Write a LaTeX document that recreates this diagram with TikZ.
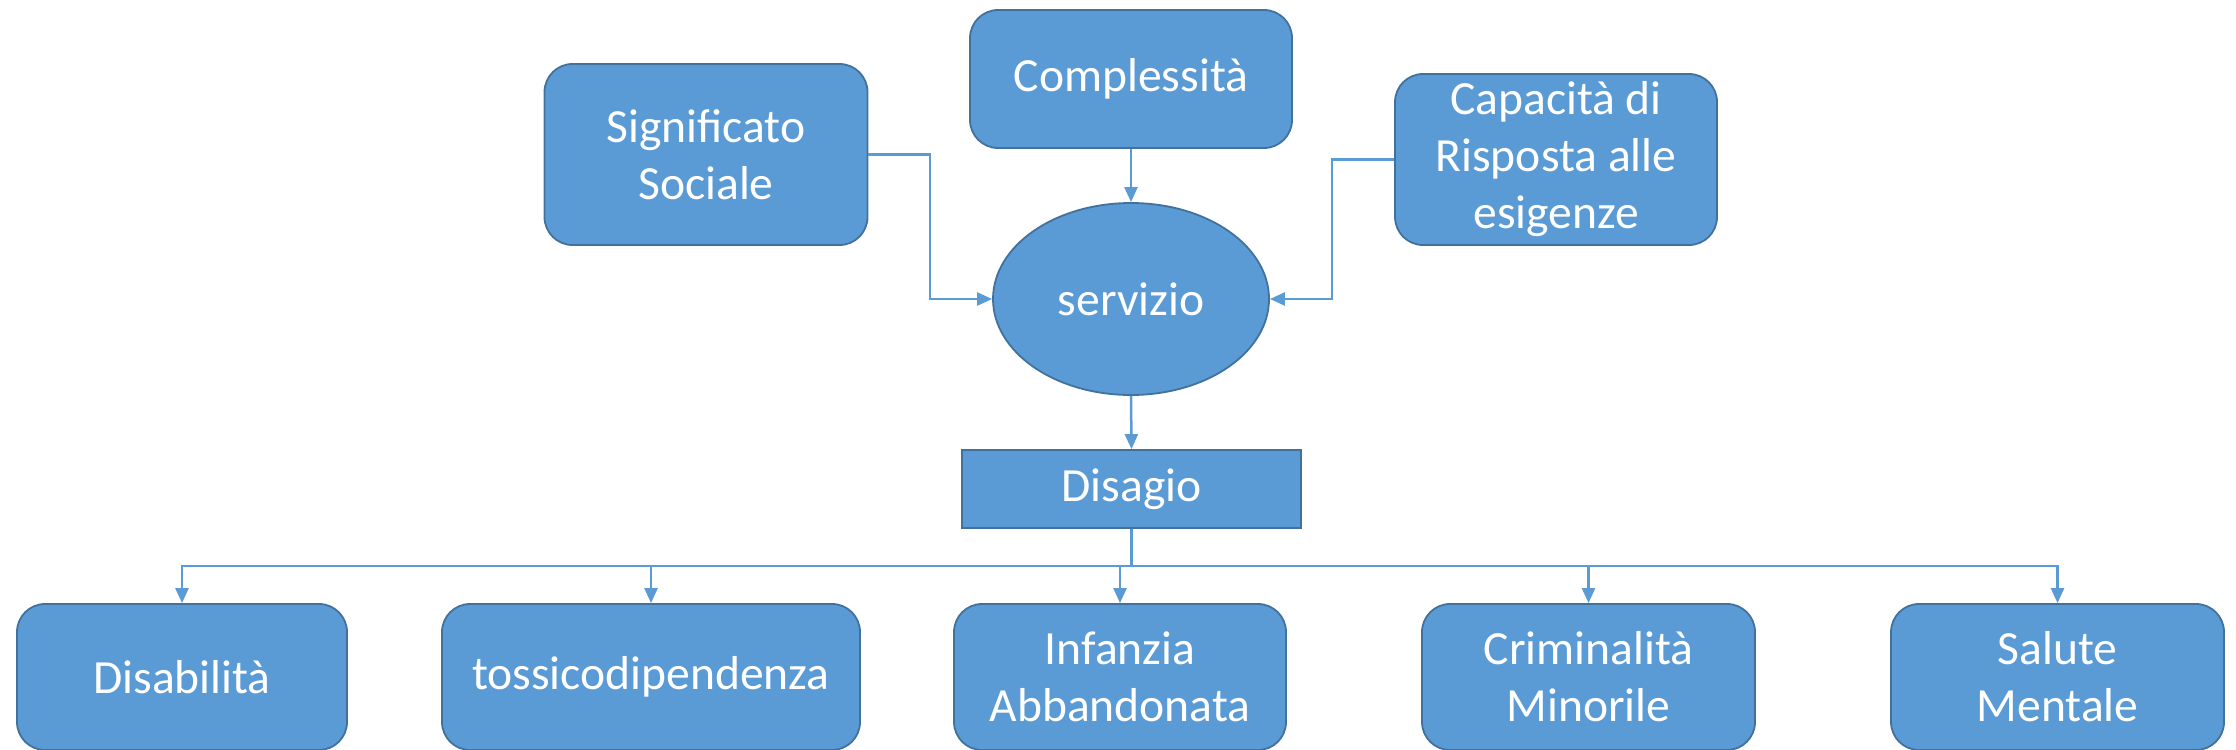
\documentclass[tikz,border=0pt]{standalone}
\usepackage{fontspec}
\setmainfont{Carlito}
\usetikzlibrary{arrows.meta,shapes.geometric}
\definecolor{boxfill}{HTML}{5B9BD5}
\definecolor{boxline}{HTML}{41719C}
\definecolor{connc}{HTML}{5B9BD5}
\begin{document}
\begin{tikzpicture}[x=0.5pt,y=-0.5pt,
 base/.style={draw=boxline, fill=boxfill, line width=0.9pt, text=white,
   font=\fontsize{23.8}{28.5}\selectfont, align=center, inner sep=0pt},
 rbox/.style={base, rectangle, rounded corners=14pt},
 sbox/.style={base, rectangle},
 ebox/.style={base, ellipse},
 conn/.style={draw=connc, line width=1.25pt, -{Triangle[length=7.5pt,width=6.5pt]}}
]
\useasboundingbox (0,0) rectangle (2236,749);
\node[rbox, minimum width=161.5pt, minimum height=90.5pt] (sig) at (706,154.5) {Significato\\Sociale};
\node[rbox, minimum width=161pt, minimum height=69pt] (comp) at (1131,79) {Complessità};
\node[rbox, minimum width=161pt, minimum height=85.5pt] (cap) at (1556,159.5) {Capacità di\\Risposta alle\\esigenze};
\node[ebox, minimum width=138pt, minimum height=96pt] (serv) at (1131,299) {servizio};
\node[sbox, minimum width=169.5pt, minimum height=39pt] (dis) at (1131.5,489) {Disagio};
\node[rbox, minimum width=165pt, minimum height=73pt] (dab) at (182,677) {Disabilità};
\node[rbox, minimum width=209pt, minimum height=73pt] (tox) at (651,677) {tossicodipendenza};
\node[rbox, minimum width=166pt, minimum height=73pt] (inf) at (1120,677) {Infanzia\\Abbandonata};
\node[rbox, minimum width=166.5pt, minimum height=73pt] (crim) at (1588.5,677) {Criminalità\\Minorile};
\node[rbox, minimum width=166.5pt, minimum height=73pt] (sal) at (2057.5,677) {Salute\\Mentale};

\coordinate (j1) at (930,154.5);
\coordinate (j2) at (1332,159.5);
\coordinate (bus) at (1131.5,566);

\draw[conn] (sig.east) -- (j1) |- (serv.west);
\draw[conn] (comp.south) -- (serv.north);
\draw[conn] (cap.west) -- (j2) |- (serv.east);
\draw[conn] (serv.south) -- (dis.north);
\draw[conn] (dis.south) -- (bus) -| (dab.north);
\draw[conn] (dis.south) -- (bus) -| (tox.north);
\draw[conn] (dis.south) -- (bus) -| (inf.north);
\draw[conn] (dis.south) -- (bus) -| (crim.north);
\draw[conn] (dis.south) -- (bus) -| (sal.north);
\end{tikzpicture}
\end{document}
